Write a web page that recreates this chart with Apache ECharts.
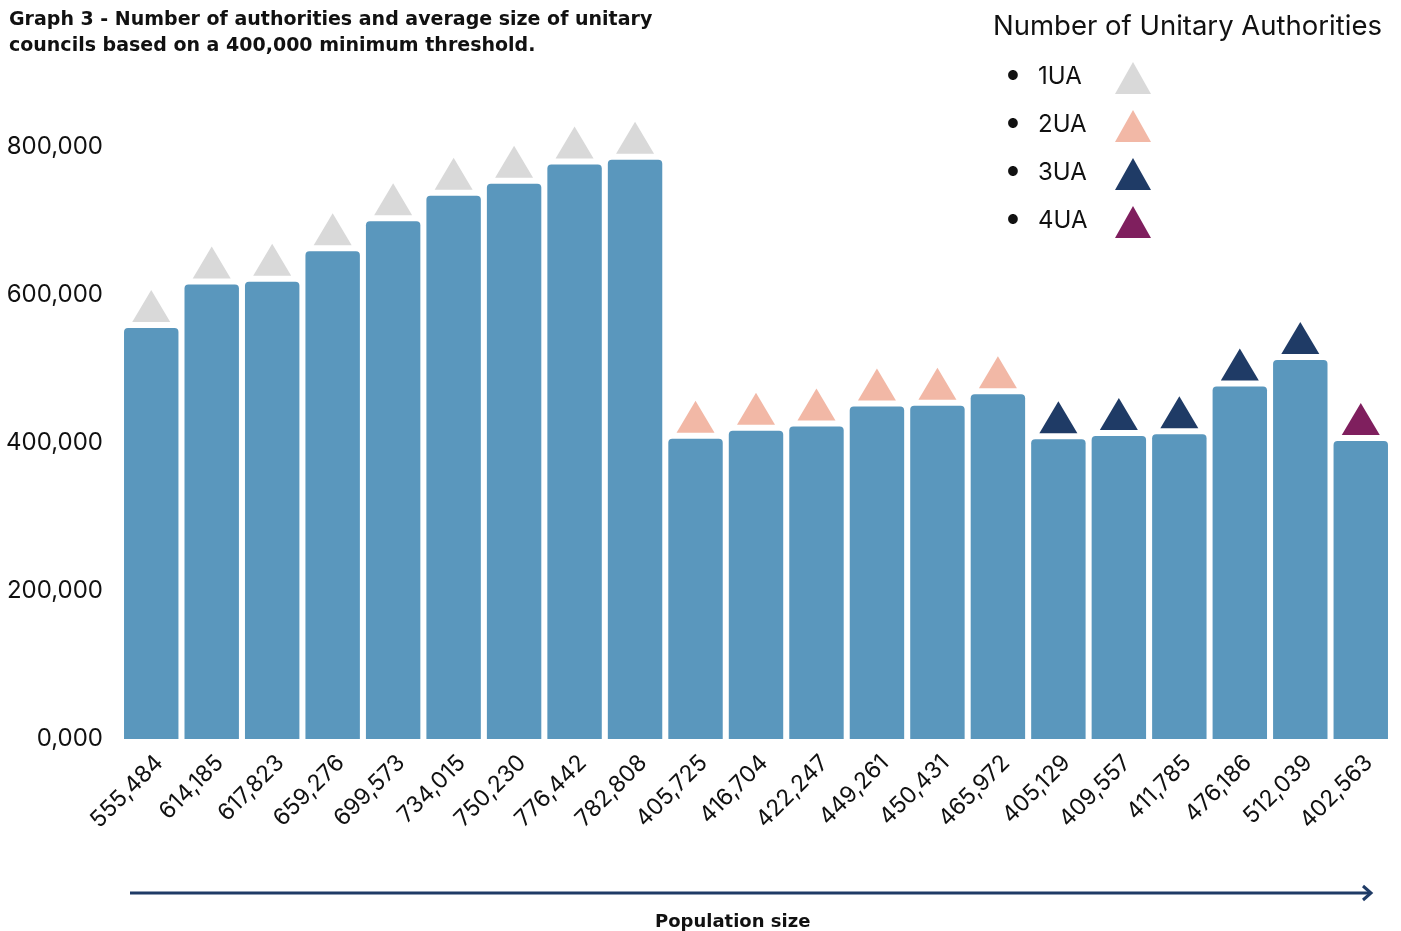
<!DOCTYPE html>
<html>
<head>
<meta charset="utf-8">
<script src="https://cdn.jsdelivr.net/npm/echarts@6/dist/echarts.min.js"></script>
<style>
  html, body { margin: 0; padding: 0; background: #fff; }
  #chart { width: 1401px; height: 931px; }
</style>
</head>
<body>
<div id="chart"></div>
<script>
// Average council size (population) for each option, left to right
const categories = ['555,484','614,185','617,823','659,276','699,573','734,015','750,230','776,442','782,808',
  '405,725','416,704','422,247','449,261','450,431','465,972','405,129','409,557','411,785','476,186','512,039','402,563'];
const avgSize = [555484,614185,617823,659276,699573,734015,750230,776442,782808,
  405725,416704,422247,449261,450431,465972,405129,409557,411785,476186,512039,402563];
// Number of unitary authorities for each option
const uaCount = [1,1,1,1,1,1,1,1,1, 2,2,2,2,2,2, 3,3,3,3,3, 4];
const uaNames = ['1UA','2UA','3UA','4UA'];
const uaColors = ['#d9d9d9','#f2b8a6','#1f3b66','#7f1f5e'];
const yTicks = [0,200000,400000,600000,800000];
const yTickLabels = ['0,000','200,000','400,000','600,000','800,000'];

const FONT = 'Inter, "Noto Sans", sans-serif';
const BOLD_FONT = '"DejaVu Sans", Inter, sans-serif';

// One triangle marker series per authority count, sitting just above each bar
const markerSeries = uaNames.map((name, k) => ({
  name: name,
  type: 'scatter',
  clip: false,
  symbol: 'triangle',
  symbolSize: [38, 32],
  symbolOffset: [0, -22],
  itemStyle: { color: uaColors[k], opacity: 1 },
  emphasis: { disabled: true },
  z: 3,
  data: avgSize.map((v, i) => uaCount[i] === k + 1 ? [i, v] : null).filter(d => d)
}));

const chart = echarts.init(document.getElementById('chart'), null, { renderer: 'canvas' });
chart.setOption({
  animation: false,
  backgroundColor: '#ffffff',
  title: [
    {
      text: 'Graph 3 - Number of authorities and average size of unitary\ncouncils based on a 400,000 minimum threshold.',
      left: 9, top: 7, padding: 0,
      textStyle: { fontFamily: BOLD_FONT, fontSize: 19, fontWeight: 'bold', color: '#111', lineHeight: 26 }
    },
    {
      text: 'Number of Unitary Authorities',
      left: 993, top: 13, padding: 0,
      textStyle: { fontFamily: FONT, fontSize: 27.5, fontWeight: 'normal', color: '#111' }
    }
  ],
  legend: {
    orient: 'vertical',
    left: 1007, top: 62, padding: 0,
    align: 'right',
    itemWidth: 36, itemHeight: 32, itemGap: 16,
    data: uaNames.map(n => ({ name: n, icon: 'triangle' })),
    formatter: name => '{b|●}{t|' + name + '}',
    textStyle: {
      fontFamily: FONT, color: '#111',
      rich: {
        b: { fontSize: 13, width: 31, align: 'left', fontFamily: FONT, color: '#111', padding: [0, 0, 3, 0] },
        t: { fontSize: 24, width: 72, align: 'left', fontFamily: FONT, color: '#111', padding: [0, 0, 3, 0] }
      }
    },
    selectedMode: false
  },
  grid: { left: 121, right: 10, top: 147, bottom: 192 },
  xAxis: {
    type: 'category',
    data: categories,
    axisLine: { show: false },
    axisTick: { show: false },
    axisLabel: {
      rotate: 45, margin: 12, interval: 0,
      verticalAlign: 'top',
      fontFamily: FONT, fontSize: 23, color: '#111'
    }
  },
  yAxis: {
    type: 'value',
    min: 0, max: 800000, interval: 200000,
    splitLine: { show: false },
    axisLine: { show: false },
    axisTick: { show: false },
    axisLabel: {
      margin: 18,
      fontFamily: FONT, fontSize: 24, color: '#111',
      formatter: v => yTickLabels[yTicks.indexOf(v)]
    }
  },
  series: [
    {
      name: 'Average size',
      type: 'bar',
      data: avgSize,
      barCategoryGap: '10%',
      itemStyle: { color: '#5a97bd', borderRadius: [4, 4, 0, 0] },
      emphasis: { disabled: true },
      z: 2
    }
  ].concat(markerSeries),
  graphic: [
    { type: 'line', shape: { x1: 130, y1: 893, x2: 1370, y2: 893 },
      style: { stroke: '#1f3b66', lineWidth: 3 } },
    { type: 'polyline', shape: { points: [[1363, 886], [1371, 893], [1363, 900]] },
      style: { stroke: '#1f3b66', lineWidth: 3, fill: null } },
    { type: 'text', left: 655, top: 913,
      style: { text: 'Population size', fontFamily: BOLD_FONT, fontSize: 18, fontWeight: 'bold', fill: '#111' } }
  ]
});
</script>
</body>
</html>
